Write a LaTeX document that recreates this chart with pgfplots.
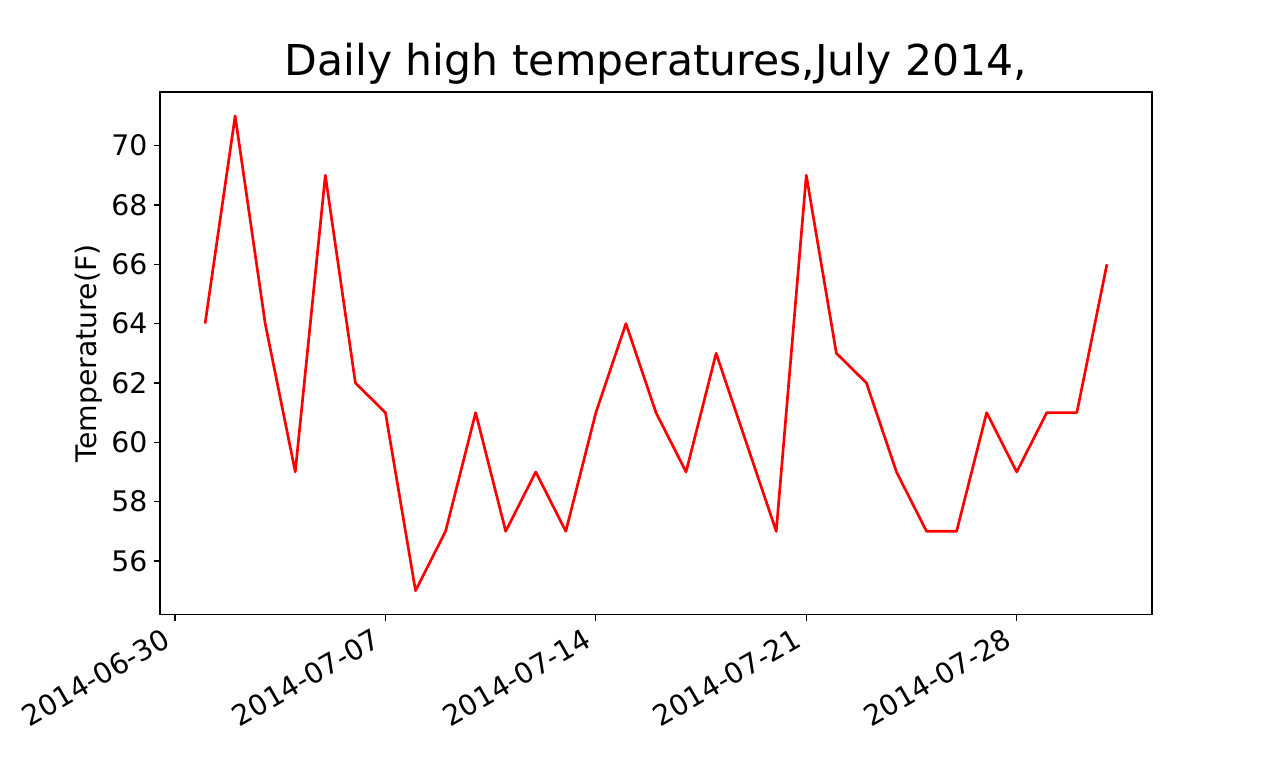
\documentclass[border=0pt]{standalone}
\usepackage{fontspec}
\setmainfont{DejaVu Sans}
\usepackage{pgfplots}
\pgfplotsset{compat=1.18}

\begin{document}
\begin{tikzpicture}
  % page = 1280 x 768 bp, axis box at (160,154) from the lower left
  \path[use as bounding box] (-160bp,-153.6bp) rectangle (1120bp,614.4bp);
  \begin{axis}[
      at={(0,0)}, anchor=south west,
      scale only axis,
      width=992bp, height=522.24bp,
      xmin=-0.5, xmax=32.5,
      ymin=54.2, ymax=71.8,
      xtick={0,7,14,21,28},
      xticklabels={2014-06-30,2014-07-07,2014-07-14,2014-07-21,2014-07-28},
      ytick={56,58,...,70},
      tick align=outside,
      xtick pos=bottom, ytick pos=left,
      major tick length=6.2bp,
      every tick/.style={black, line width=1.2bp},
      axis line style={line width=1.42bp},
      /pgf/number format/assume math mode=true,
      ticklabel style={font=\fontsize{28.4}{34}\selectfont, inner sep=0pt},
      x tick label style={xshift=-3bp, yshift=-24.9bp, rotate=30, anchor=base east},
      y tick label style={xshift=-6.2bp},
      title={Daily high temperatures,July 2014,},
      title style={at={(axis description cs:0.5,1)}, anchor=base, yshift=10.7bp,
        font=\fontsize{42.7}{51}\selectfont},
      ylabel={Temperature(F)},
      ylabel style={at={(axis description cs:0,0.5)}, anchor=south, inner sep=0pt,
        yshift=57.5bp, font=\fontsize{28.4}{34}\selectfont},
    ]
    \addplot[red, line width=2.67bp, line join=round, mark=none, sharp plot] coordinates {
        (1,64) (2,71) (3,64) (4,59) (5,69) (6,62) (7,61) (8,55)
        (9,57) (10,61) (11,57) (12,59) (13,57) (14,61) (15,64) (16,61)
        (17,59) (18,63) (19,60) (20,57) (21,69) (22,63) (23,62) (24,59)
        (25,57) (26,57) (27,61) (28,59) (29,61) (30,61) (31,66)
      };
  \end{axis}
\end{tikzpicture}
\end{document}
